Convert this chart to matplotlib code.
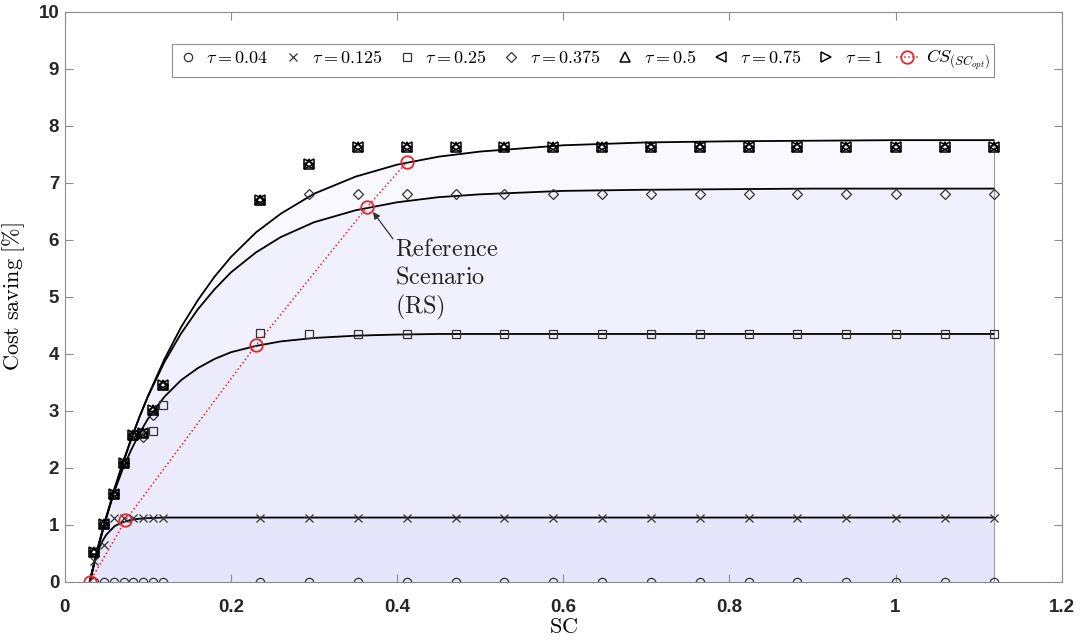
import matplotlib
matplotlib.use('Agg')
import matplotlib.pyplot as plt

plt.rcParams['mathtext.fontset'] = 'cm'

# fitted curves
cx = [0.03, 0.035, 0.04, 0.045, 0.05, 0.06, 0.07, 0.08, 0.09, 0.1, 0.12, 0.14, 0.16, 0.18,
      0.2, 0.23, 0.26, 0.3, 0.35, 0.4, 0.45, 0.5, 0.6, 0.7, 0.8, 0.9, 1.0, 1.118]
c1 = [0, 0.30, 0.58, 0.86, 1.12, 1.62, 2.08, 2.50, 2.90, 3.26, 3.91, 4.47, 4.94, 5.35,
      5.70, 6.13, 6.46, 6.81, 7.11, 7.32, 7.46, 7.55, 7.66, 7.71, 7.73, 7.74, 7.75, 7.75]
c2 = [0, 0.31, 0.60, 0.88, 1.15, 1.65, 2.10, 2.52, 2.90, 3.25, 3.86, 4.36, 4.78, 5.13,
      5.43, 5.78, 6.05, 6.31, 6.52, 6.66, 6.75, 6.80, 6.86, 6.88, 6.89, 6.90, 6.90, 6.90]
c3 = [0, 0.32, 0.62, 0.89, 1.14, 1.60, 1.99, 2.32, 2.61, 2.86, 3.25, 3.54, 3.75, 3.91,
      4.03, 4.14, 4.22, 4.28, 4.32, 4.34, 4.35, 4.35, 4.35, 4.35, 4.35, 4.35, 4.35, 4.35]
c4 = [0, 0.30, 0.55, 0.71, 0.83, 0.98, 1.05, 1.09, 1.11, 1.12, 1.13, 1.13, 1.13, 1.13,
      1.13, 1.13, 1.13, 1.13, 1.13, 1.13, 1.13, 1.13, 1.13, 1.13, 1.13, 1.13, 1.13, 1.13]

# simulated points
sc = [0.035, 0.047, 0.059, 0.071, 0.082, 0.094, 0.106, 0.118,
      0.235, 0.294, 0.353, 0.412, 0.471, 0.529, 0.588, 0.647, 0.706, 0.765,
      0.824, 0.882, 0.941, 1.0, 1.059, 1.118]
cs_004 = [0] * 24
cs_0125 = [0.36, 0.65, 1.12, 1.13, 1.13, 1.13, 1.13, 1.13] + [1.13] * 16
cs_025 = [0.52, 1.02, 1.54, 2.09, 2.58, 2.61, 2.65, 3.10, 4.37] + [4.35] * 15
cs_0375 = [0.52, 1.02, 1.54, 2.09, 2.58, 2.55, 2.93, 3.46, 6.70] + [6.81] * 15
cs_05 = [0.52, 1.02, 1.54, 2.09, 2.58, 2.61, 3.02, 3.46, 6.70, 7.33] + [7.63] * 14
cs_075 = cs_05
cs_1 = cs_05

opt_x = [0.030, 0.073, 0.230, 0.3635, 0.412]
opt_y = [0, 1.08, 4.15, 6.57, 7.37]

fig = plt.figure(figsize=(10.8, 6.42), dpi=100)
ax = fig.add_axes([0.060, 0.0935, 0.923, 0.888])

for c in [c1, c2, c3, c4]:
    ax.fill_between(cx, 0, c, color=(0.35, 0.35, 0.95), alpha=0.04, lw=0)
ax.plot([cx[-1], cx[-1]], [0, c1[-1]], color='#999999', lw=0.8)
for c in [c1, c2, c3, c4]:
    ax.plot(cx, c, color='black', lw=1.3)

mk = dict(ls='none', mfc='none', mec='#333333', ms=6, mew=0.9)
ax.plot(sc, cs_004, 'o', label=r'$\tau = 0.04$', **mk)
ax.plot(sc, cs_0125, 'x', label=r'$\tau = 0.125$', **mk)
ax.plot(sc, cs_025, 's', label=r'$\tau = 0.25$', **dict(mk, ms=5.5))
ax.plot(sc, cs_0375, 'D', label=r'$\tau = 0.375$', **dict(mk, ms=5))
ax.plot(sc, cs_05, '^', label=r'$\tau = 0.5$', **dict(mk, mec='black', ms=6.5, mew=1.1))
ax.plot(sc, cs_075, '<', label=r'$\tau = 0.75$', **dict(mk, mec='black', ms=6.5, mew=1.1))
ax.plot(sc, cs_1, '>', label=r'$\tau = 1$', **dict(mk, mec='black', ms=6.5, mew=1.1))
ax.plot(opt_x, opt_y, ':o', color='#e8262a', mfc='none', ms=9, mew=1.3, lw=1.1,
        label=r'$CS_{(SC_{opt})}$')

ax.annotate('', xy=(0.371, 6.49), xytext=(0.395, 6.02),
            arrowprops=dict(arrowstyle='-|>', color='#333333', lw=0.9,
                            mutation_scale=10, shrinkA=0, shrinkB=0))
ax.text(0.398, 6.06, '$\\mathrm{Reference}$\n$\\mathrm{Scenario}$\n$\\mathrm{(RS)}$',
        fontsize=17.5, ha='left', va='top', linespacing=1.2, color='#222222')

ax.set_xlim(0, 1.2)
ax.set_ylim(0, 10)
ax.set_xticks([0, 0.2, 0.4, 0.6, 0.8, 1, 1.2])
ax.set_xticklabels(['0', '0.2', '0.4', '0.6', '0.8', '1', '1.2'])
ax.set_yticks(range(11))
for lab in ax.get_xticklabels() + ax.get_yticklabels():
    lab.set_fontfamily('Liberation Sans')
    lab.set_fontweight('bold')
    lab.set_fontsize(13.5)
    lab.set_color('#262626')
ax.tick_params(direction='in', length=6, width=0.8, color='#8c8c8c',
               top=True, right=True, pad=4)
ax.tick_params(axis='x', pad=12)
for s in ax.spines.values():
    s.set_color('#8c8c8c')
    s.set_linewidth(0.8)

ax.set_xlabel(r'$\mathrm{SC}$', fontsize=16, labelpad=1)
ax.set_ylabel(r'$\mathrm{Cost\ saving\ [\%]}$', fontsize=16, labelpad=8)

leg = ax.legend(loc='upper center', bbox_to_anchor=(0.52, 0.96), ncol=8,
                fontsize=13, frameon=True, fancybox=False, framealpha=1,
                edgecolor='#8c8c8c', handlelength=1.2, handletextpad=0.45,
                columnspacing=0.75, borderpad=0.25)
leg.get_frame().set_linewidth(0.8)

fig.savefig('out.png', dpi=100)
